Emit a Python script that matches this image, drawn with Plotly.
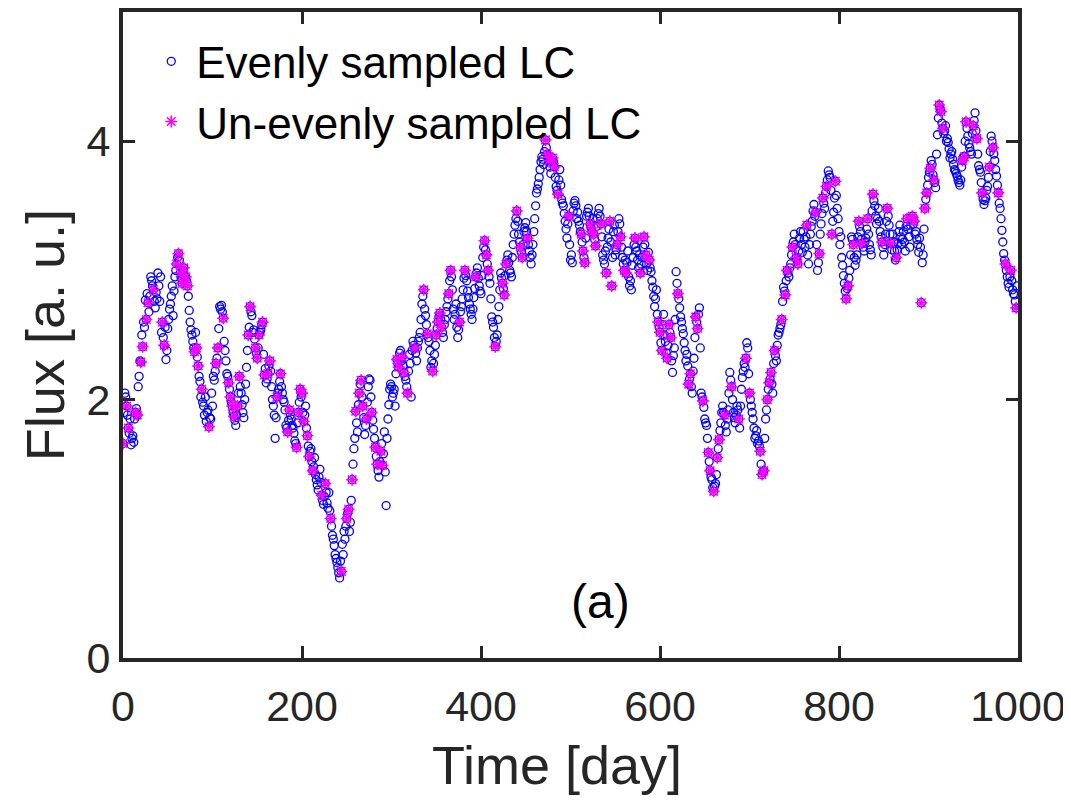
import plotly.graph_objects as go

# Evenly sampled light curve (one point per day).
# Values on even days t = 0, 2, ..., 998
flux_even_days = [
    1.66, 2.05, 1.95, 1.78, 1.85, 1.70, 1.67, 1.90, 1.88, 2.18,
    2.29, 2.41, 2.56, 2.62, 2.75, 2.80, 2.92, 2.85, 2.71, 2.78,
    2.88, 2.95, 2.60, 2.42, 2.31, 2.55, 2.70, 2.80, 2.65, 2.95,
    3.05, 3.13, 2.98, 2.90, 3.02, 2.95, 2.88, 2.69, 2.54, 2.45,
    2.37, 2.40, 2.26, 2.14, 2.08, 1.95, 2.02, 1.90, 1.79, 1.85,
    1.95, 2.15, 2.28, 2.40, 2.72, 2.73, 2.63, 2.38, 2.20, 2.13,
    2.02, 1.95, 1.87, 1.80, 1.95, 2.18, 2.05, 1.90, 2.00, 2.25,
    2.50, 2.72, 2.65, 2.54, 2.40, 2.32, 2.50, 2.54, 2.60, 2.19,
    2.13, 2.20, 2.30, 2.10, 1.95, 1.70, 2.02, 2.08, 2.20, 2.05,
    1.98, 1.80, 1.75, 1.92, 1.85, 1.78, 1.68, 1.63, 1.90, 2.08,
    2.05, 1.83, 1.95, 1.72, 1.56, 1.62, 1.45, 1.55, 1.38, 1.30,
    1.46, 1.26, 1.19, 1.35, 1.20, 1.28, 1.08, 0.95, 0.87, 0.77,
    0.70, 0.62, 0.67, 0.80, 0.92, 1.08, 1.15, 1.05, 1.38, 1.62,
    1.91, 1.75, 2.05, 2.15, 1.95, 1.73, 1.85, 2.10, 2.15, 1.90,
    1.77, 1.63, 1.50, 1.40, 1.60, 1.49, 1.75, 1.18, 1.85, 2.08,
    2.10, 2.05, 1.95, 2.31, 2.25, 2.38, 2.33, 2.21, 2.15, 2.05,
    2.35, 2.02, 2.45, 2.40, 2.30, 2.45, 2.52, 2.74, 2.85, 2.65,
    2.51, 2.45, 2.25, 2.22, 2.35, 2.50, 2.60, 2.67, 2.56, 2.48,
    2.62, 2.72, 2.82, 3.00, 2.85, 2.62, 2.74, 2.48, 2.60, 2.72,
    2.85, 3.00, 2.92, 2.79, 2.70, 2.62, 2.79, 2.95, 3.02, 2.88,
    2.82, 3.10, 3.23, 3.12, 3.00, 2.90, 2.64, 2.56, 2.41, 2.50,
    2.72, 2.98, 2.90, 2.81, 3.05, 3.12, 3.00, 2.95, 3.20, 3.35,
    3.46, 3.28, 3.18, 3.10, 3.30, 3.37, 3.25, 3.15, 3.05, 3.20,
    3.40, 3.60, 3.67, 3.78, 3.88, 3.82, 4.01, 3.90, 3.85, 3.75,
    3.87, 3.80, 3.65, 3.59, 3.78, 3.55, 3.50, 3.38, 3.25, 3.42,
    3.08, 3.06, 3.52, 3.50, 3.45, 3.35, 3.28, 3.15, 3.06, 3.42,
    3.48, 3.36, 3.30, 3.28, 3.19, 3.40, 3.48, 3.36, 3.12, 3.05,
    2.98, 3.25, 3.38, 2.88, 3.30, 3.12, 3.20, 3.40, 3.26, 3.10,
    3.00, 2.98, 3.15, 2.88, 2.85, 3.10, 3.25, 3.15, 3.02, 2.98,
    3.10, 3.26, 3.12, 3.00, 3.08, 2.99, 2.87, 2.72, 2.85, 2.60,
    2.52, 2.38, 2.66, 2.45, 2.32, 2.58, 2.48, 2.21, 2.40, 2.99,
    2.82, 2.71, 2.60, 2.51, 2.38, 2.35, 2.12, 2.20, 2.05, 2.32,
    2.64, 2.55, 2.71, 2.05, 1.99, 1.85, 1.80, 1.59, 1.45, 1.38,
    1.29, 1.35, 1.55, 1.69, 1.82, 1.95, 1.88, 1.75, 1.92, 2.21,
    2.10, 1.90, 1.82, 1.95, 1.85, 1.95, 2.17, 2.28, 2.32, 2.40,
    2.05, 1.95, 1.85, 1.70, 1.76, 1.68, 1.60, 1.42, 1.45, 1.85,
    2.00, 2.13, 2.21, 2.05, 2.38, 2.30, 2.50, 2.55, 2.62, 2.87,
    2.81, 3.00, 2.95, 3.05, 3.18, 3.28, 3.10, 3.05, 3.25, 3.20,
    3.30, 3.18, 3.35, 3.05, 3.28, 3.38, 3.51, 3.45, 3.00, 3.13,
    3.36, 3.56, 3.48, 3.65, 3.77, 3.72, 3.28, 3.45, 3.69, 3.48,
    3.30, 3.26, 3.04, 2.90, 2.78, 2.88, 3.00, 3.26, 3.20, 3.04,
    3.12, 3.38, 3.30, 3.21, 3.15, 3.25, 3.40, 3.20, 3.12, 3.59,
    3.50, 3.36, 3.48, 3.30, 3.22, 3.12, 3.28, 3.48, 3.35, 3.21,
    3.28, 3.15, 3.10, 3.21, 3.35, 3.20, 3.30, 3.15, 3.40, 3.26,
    3.35, 3.42, 3.38, 3.30, 3.20, 3.25, 2.75, 3.12, 3.48, 3.60,
    3.72, 3.79, 3.82, 3.70, 3.64, 4.05, 4.28, 4.23, 4.10, 4.08,
    4.00, 3.99, 3.87, 3.92, 3.82, 3.77, 3.73, 3.68, 3.70, 3.85,
    3.88, 4.15, 4.04, 3.95, 3.90, 4.12, 4.22, 4.02, 3.81, 3.76,
    3.60, 3.51, 3.56, 3.65, 3.80, 4.04, 3.95, 3.85, 3.73, 3.60,
    3.48, 3.31, 3.13, 3.05, 2.95, 2.87, 3.00, 2.85, 2.81, 2.71,
]
# Values on odd days t = 1, 3, ..., 999
flux_odd_days = [
    1.90, 2.02, 1.88, 1.74, 1.65, 1.72, 1.85, 1.93, 2.10, 2.30,
    2.50, 2.60, 2.77, 2.82, 2.68, 2.95, 2.88, 2.76, 2.83, 2.98,
    2.76, 2.52, 2.48, 2.56, 2.38, 2.62, 2.74, 2.88, 2.84, 3.00,
    3.10, 3.08, 2.94, 3.00, 2.96, 2.92, 2.80, 2.60, 2.50, 2.40,
    2.52, 2.33, 2.18, 2.02, 1.98, 1.88, 1.83, 1.92, 1.86, 2.05,
    2.18, 2.22, 2.32, 2.55, 2.70, 2.68, 2.45, 2.30, 2.18, 2.08,
    1.98, 1.90, 1.84, 1.88, 2.05, 2.10, 1.96, 1.86, 2.12, 2.38,
    2.56, 2.68, 2.52, 2.47, 2.36, 2.40, 2.52, 2.58, 2.35, 2.24,
    2.16, 2.26, 2.22, 2.00, 1.88, 1.86, 2.05, 2.14, 2.10, 2.00,
    1.92, 1.78, 1.84, 1.88, 1.80, 1.74, 1.66, 1.82, 1.98, 2.02,
    1.90, 1.88, 1.78, 1.64, 1.60, 1.52, 1.48, 1.42, 1.34, 1.40,
    1.36, 1.22, 1.25, 1.28, 1.16, 1.14, 1.02, 0.92, 0.80, 0.74,
    0.66, 0.75, 0.88, 0.98, 1.02, 1.12, 0.98, 1.22, 1.50, 1.70,
    1.82, 1.96, 2.12, 2.02, 1.86, 1.80, 1.98, 2.16, 2.02, 1.84,
    1.70, 1.56, 1.45, 1.52, 1.66, 1.58, 1.44, 1.70, 1.96, 2.12,
    2.02, 2.08, 2.20, 2.28, 2.36, 2.30, 2.26, 2.18, 2.10, 2.22,
    2.28, 2.38, 2.42, 2.36, 2.40, 2.48, 2.62, 2.80, 2.70, 2.58,
    2.48, 2.38, 2.30, 2.28, 2.42, 2.55, 2.64, 2.62, 2.52, 2.58,
    2.68, 2.78, 2.92, 2.95, 2.70, 2.66, 2.56, 2.54, 2.68, 2.78,
    2.94, 2.96, 2.84, 2.74, 2.66, 2.70, 2.86, 2.98, 2.94, 2.84,
    2.96, 3.18, 3.16, 3.05, 2.95, 2.78, 2.60, 2.48, 2.45, 2.62,
    2.85, 2.94, 2.86, 2.96, 3.08, 3.06, 2.98, 3.10, 3.28, 3.40,
    3.38, 3.22, 3.14, 3.20, 3.33, 3.30, 3.20, 3.10, 3.12, 3.30,
    3.50, 3.63, 3.72, 3.84, 3.86, 3.92, 3.95, 3.88, 3.80, 3.84,
    3.84, 3.72, 3.62, 3.70, 3.66, 3.52, 3.44, 3.32, 3.36, 3.20,
    3.12, 3.46, 3.54, 3.40, 3.38, 3.30, 3.22, 3.10, 3.25, 3.45,
    3.42, 3.33, 3.40, 3.24, 3.34, 3.44, 3.42, 3.26, 3.08, 3.15,
    3.18, 3.32, 3.22, 3.10, 3.35, 3.16, 3.30, 3.36, 3.18, 3.05,
    3.08, 3.06, 2.95, 2.92, 3.04, 3.20, 3.18, 3.08, 3.12, 3.05,
    3.18, 3.20, 3.05, 3.14, 3.02, 2.92, 2.80, 2.78, 2.66, 2.56,
    2.44, 2.58, 2.50, 2.36, 2.42, 2.52, 2.30, 2.34, 2.62, 2.90,
    2.78, 2.64, 2.55, 2.44, 2.30, 2.26, 2.16, 2.10, 2.22, 2.48,
    2.60, 2.66, 2.40, 2.02, 1.94, 1.82, 1.70, 1.52, 1.40, 1.32,
    1.33, 1.42, 1.62, 1.76, 1.90, 1.90, 1.80, 1.85, 2.05, 2.15,
    2.00, 1.86, 1.88, 1.92, 1.78, 2.08, 2.22, 2.25, 2.44, 2.20,
    2.00, 1.90, 1.78, 1.72, 1.66, 1.64, 1.50, 1.44, 1.70, 1.92,
    2.08, 2.16, 2.12, 2.28, 2.34, 2.42, 2.52, 2.58, 2.76, 2.84,
    2.92, 2.98, 3.02, 3.12, 3.22, 3.20, 3.08, 3.15, 3.30, 3.14,
    3.24, 3.26, 3.12, 3.20, 3.34, 3.46, 3.42, 3.20, 3.06, 3.28,
    3.44, 3.52, 3.60, 3.70, 3.74, 3.62, 3.38, 3.56, 3.58, 3.40,
    3.20, 3.10, 2.96, 2.84, 2.86, 2.94, 3.12, 3.24, 3.10, 3.08,
    3.26, 3.34, 3.24, 3.18, 3.22, 3.32, 3.28, 3.16, 3.46, 3.54,
    3.42, 3.40, 3.38, 3.26, 3.18, 3.20, 3.38, 3.42, 3.28, 3.16,
    3.22, 3.08, 3.16, 3.30, 3.26, 3.24, 3.22, 3.34, 3.32, 3.18,
    3.40, 3.36, 3.28, 3.24, 3.14, 3.18, 3.06, 3.32, 3.55, 3.66,
    3.76, 3.85, 3.74, 3.68, 3.90, 4.18, 4.25, 4.14, 4.06, 4.12,
    4.02, 3.94, 3.90, 3.86, 3.78, 3.75, 3.70, 3.66, 3.80, 3.88,
    4.00, 4.10, 3.98, 3.92, 4.06, 4.16, 4.08, 3.90, 3.78, 3.68,
    3.55, 3.54, 3.62, 3.72, 3.92, 4.00, 3.90, 3.78, 3.66, 3.52,
    3.40, 3.22, 3.08, 3.00, 2.90, 2.95, 2.92, 2.82, 2.76, 2.88,
]
time_even_days = [2 * i for i in range(len(flux_even_days))]
time_odd_days = [2 * i + 1 for i in range(len(flux_odd_days))]
time_even = time_even_days + time_odd_days
flux_even = flux_even_days + flux_odd_days

# Un-evenly sampled light curve: the days that were kept
time_uneven = [
    0, 4, 6, 14, 16, 20, 22, 26, 28, 34, 44, 46, 60, 62, 64, 66, 68, 70, 72,
    80, 82, 84, 88, 96, 104, 106, 112, 118, 120, 122, 124, 128, 130, 140, 142,
    148, 150, 152, 156, 158, 162, 164, 172, 176, 184, 186, 194, 196, 198, 200,
    202, 206, 208, 212, 222, 226, 232, 244, 250, 252, 256, 260, 264, 266, 268,
    272, 278, 282, 284, 288, 290, 306, 308, 312, 314, 318, 326, 336, 340, 346,
    350, 352, 354, 356, 364, 366, 376, 382, 394, 404, 406, 408, 416, 424, 426,
    428, 440, 444, 446, 452, 472, 474, 476, 480, 482, 486, 498, 512, 514, 516,
    522, 524, 526, 528, 534, 540, 544, 546, 552, 556, 560, 562, 572, 578, 582,
    584, 588, 598, 600, 602, 608, 610, 612, 620, 632, 634, 640, 642, 648, 654,
    656, 660, 664, 666, 672, 680, 688, 696, 700, 712, 714, 716, 720, 722, 724,
    728, 736, 740, 742, 748, 752, 754, 764, 774, 778, 782, 786, 792, 796, 808,
    810, 816, 822, 826, 832, 838, 848, 854, 858, 864, 876, 882, 884, 892, 896,
    898, 902, 906, 912, 914, 916, 938, 940, 942, 950, 954, 960, 968, 972, 978,
    986, 992, 998,
]
flux_uneven = [flux_even_days[t // 2] for t in time_uneven]

x_ticks = [0, 200, 400, 600, 800, 1000]
y_ticks = [0, 2, 4]

FONT = "Liberation Sans, Arial, Helvetica, sans-serif"
AX = "#262626"

fig = go.Figure()
fig.add_trace(go.Scatter(
    x=time_even, y=flux_even, mode="markers", name="Evenly sampled LC",
    marker=dict(symbol="circle-open", size=8, color="#0000FF",
                line=dict(width=1.3, color="#0000FF")),
))
fig.add_trace(go.Scatter(
    x=time_uneven, y=flux_uneven, mode="markers", name="Un-evenly sampled LC",
    marker=dict(symbol="asterisk-open", size=10, color="#FF00FF",
                line=dict(width=1.6, color="#FF00FF")),
))

fig.add_annotation(x=533, y=0.44, text="(a)", showarrow=False,
                   font=dict(family=FONT, size=48, color="black"))
fig.add_annotation(xref="paper", yref="paper", x=0.485, y=-0.166,
                   text="Time [day]", showarrow=False, yanchor="middle",
                   font=dict(family=FONT, size=54, color=AX))
fig.add_annotation(xref="paper", yref="paper", x=-0.087, y=0.5,
                   text="Flux [a. u.]", showarrow=False, textangle=-90,
                   xanchor="center", yanchor="middle",
                   font=dict(family=FONT, size=54, color=AX))

axis_common = dict(
    showline=True, linewidth=4, linecolor=AX, mirror="ticks",
    ticks="inside", ticklen=12, tickwidth=3, tickcolor=AX,
    showgrid=False, zeroline=False, automargin=False,
    tickfont=dict(family=FONT, size=43, color=AX),
)

# The page body has an 8 px margin; size the figure so the page never scrolls
fig.update_layout(
    width=1063, height=787,
    margin=dict(l=115, r=53, t=4, b=137),
    paper_bgcolor="white", plot_bgcolor="white",
    font=dict(family=FONT, color=AX),
    showlegend=True,
    legend=dict(
        x=0.026, y=0.978, xanchor="left", yanchor="top",
        bgcolor="rgba(0,0,0,0)", borderwidth=0,
        font=dict(family=FONT, size=44, color="black"),
        itemsizing="trace", itemwidth=40, tracegroupgap=0,
    ),
    xaxis=dict(range=[0, 1000], tickvals=x_ticks, ticktext=[str(v) for v in x_ticks],
               ticklabelstandoff=7, ticklabeloverflow="allow", **axis_common),
    yaxis=dict(range=[0, 5], tickvals=y_ticks, ticktext=[str(v) for v in y_ticks],
               **axis_common),
)

fig.write_html("out.html")
